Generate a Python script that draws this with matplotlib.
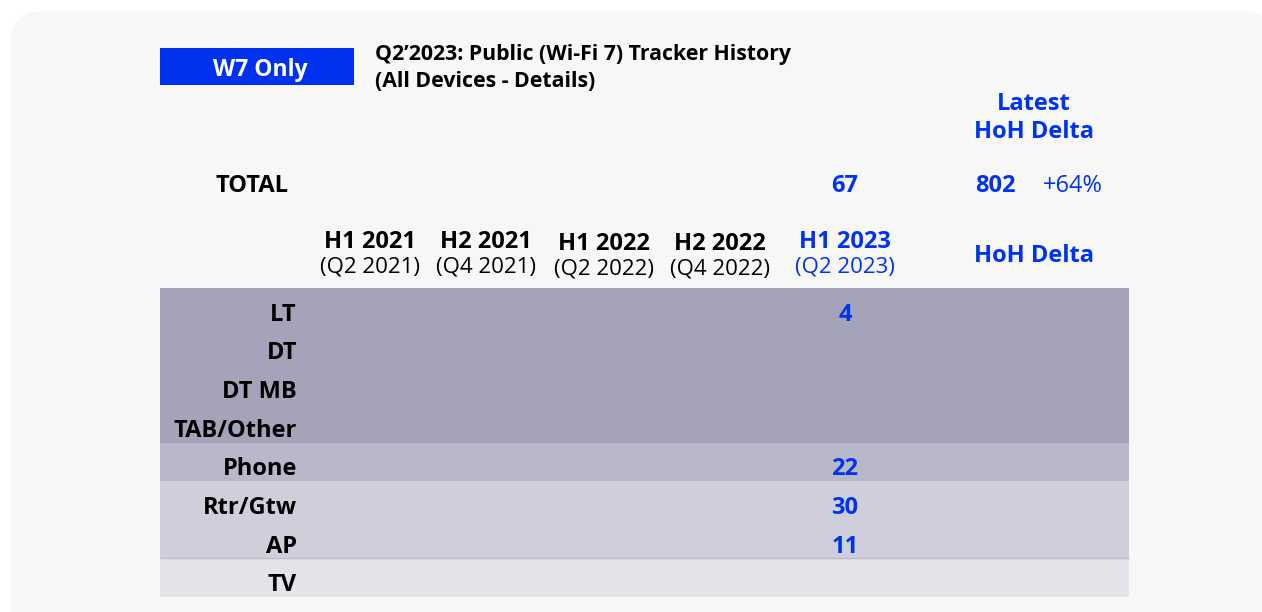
import matplotlib.pyplot as plt
from matplotlib.patches import FancyBboxPatch, Rectangle

plt.rcParams['font.family'] = ['Open Sans', 'DejaVu Sans']

# data
row_labels = ['LT', 'DT', 'DT MB', 'TAB/Other', 'Phone', 'Rtr/Gtw', 'AP', 'TV']
h1_2023_values = [4, None, None, None, 22, 30, 11, None]
period_labels = ['H1 2021', 'H2 2021', 'H1 2022', 'H2 2022', 'H1 2023']
quarter_labels = ['(Q2 2021)', '(Q4 2021)', '(Q2 2022)', '(Q4 2022)', '(Q2 2023)']
total_h1_2023 = 67
latest_total = 802
latest_delta = '+64%'

BLUE = '#0033ee'
row_colors = ['#a5a3b9'] * 4 + ['#b9b8ca'] + ['#cfcfdb'] * 2 + ['#e4e3ea']
FS_B = 17     # bold labels
FS_N = 16     # normal labels
DY = 2.5      # open sans sits a bit high with va=center

W, H = 1262, 612
fig = plt.figure(figsize=(W / 100, H / 100), dpi=100)
ax = fig.add_axes([0, 0, 1, 1])
ax.set_xlim(0, W)
ax.set_ylim(H, 0)
ax.axis('off')
fig.patch.set_facecolor('white')

# card background
ax.add_patch(FancyBboxPatch((10, 11), 1265, 660, boxstyle='round,pad=0,rounding_size=35',
                            facecolor='#f7f7f7', edgecolor='none', zorder=0))

# header box + title
ax.add_patch(Rectangle((160, 48), 194, 37, facecolor='#0031ee', edgecolor='none', zorder=1))
ax.text(260, 67 + DY, 'W7 Only', color='white', fontsize=16.5, fontweight='bold',
        ha='center', va='center', zorder=2)
ax.text(375, 52 + DY, 'Q2\u20192023: Public (Wi-Fi 7) Tracker History', fontsize=15.3,
        fontweight='bold', ha='left', va='center')
ax.text(375, 79 + DY, '(All Devices - Details)', fontsize=15.3, fontweight='bold',
        ha='left', va='center')

# latest column header
delta_x = 1034
ax.text(delta_x, 101 + DY, 'Latest', color=BLUE, fontsize=FS_B, fontweight='bold', ha='center', va='center')
ax.text(delta_x, 129 + DY, 'HoH Delta', color=BLUE, fontsize=FS_B, fontweight='bold', ha='center', va='center')

# total row
col_x = [370, 486, 604, 720, 845]
ax.text(252, 184 + DY, 'TOTAL', fontsize=FS_B, fontweight='bold', ha='center', va='center')
ax.text(col_x[-1], 184 + DY, str(total_h1_2023), color=BLUE, fontsize=FS_B, fontweight='bold',
        ha='center', va='center')
ax.text(995, 184 + DY, str(latest_total), color=BLUE, fontsize=FS_B, fontweight='bold',
        ha='center', va='center')
ax.text(1073, 184 + DY, latest_delta, color=BLUE, fontsize=FS_N + 1, ha='center', va='center')

# column headers
for i, (p, q) in enumerate(zip(period_labels, quarter_labels)):
    c = BLUE if i == len(period_labels) - 1 else 'black'
    dy = 2 if i in (2, 3) else 0
    ax.text(col_x[i], 240 + dy + DY, p, color=c, fontsize=FS_B, fontweight='bold', ha='center', va='center')
    ax.text(col_x[i], 264 + dy + DY, q, color=c, fontsize=FS_N, ha='center', va='center')
ax.text(delta_x, 253 + DY, 'HoH Delta', color=BLUE, fontsize=FS_B, fontweight='bold', ha='center', va='center')

# table rows
top, bottom = 288, 597
row_h = (bottom - top) / len(row_labels)
for i, (lab, v) in enumerate(zip(row_labels, h1_2023_values)):
    y0 = top + i * row_h
    ax.add_patch(Rectangle((160, y0), 969, row_h, facecolor=row_colors[i], edgecolor='none', zorder=1))
    yc = y0 + row_h / 2 + 4 + DY + 1
    ax.text(297, yc, lab, fontsize=FS_B, fontweight='bold', ha='right', va='center', zorder=2)
    if v is not None:
        ax.text(col_x[-1], yc, str(v), color=BLUE, fontsize=FS_B, fontweight='bold',
                ha='center', va='center', zorder=2)
ax.plot([160, 1129], [top + 7 * row_h, top + 7 * row_h], color='#bdbccc', lw=1,
        solid_capstyle='butt', zorder=2)

fig.savefig('out.png', dpi=100)
